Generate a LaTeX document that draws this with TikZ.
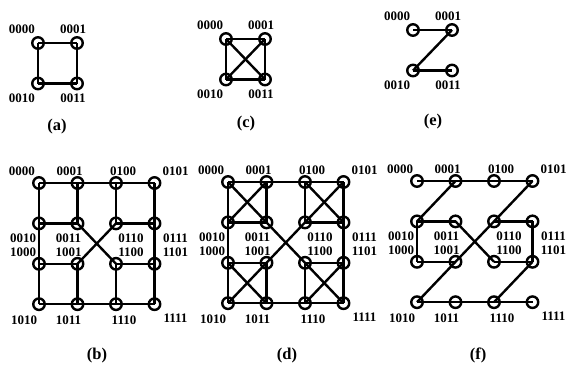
\documentclass[tikz,border=0pt]{standalone}
\usepackage{fontspec}
\setmainfont{Liberation Serif}
\usetikzlibrary{positioning}

\begin{document}
\begin{tikzpicture}[
    x=1pt, y=-1pt,
    pe/.style={circle, draw=black, line width=2.4pt, minimum size=11.5pt, inner sep=0pt},
    tag/.style={font=\bfseries\fontsize{13}{14}\selectfont, inner sep=0pt},
    caption/.style={font=\bfseries\fontsize{16.5}{18}\selectfont, inner sep=0pt},
    link/.style={line width=2.4pt}
]
    \useasboundingbox (0,0) rectangle (569,368);

    % 2x2 meshes (a), (c), (e)
    \foreach \p/\ox/\oy in {a/38/43, c/226/39, e/413/30} {
        \foreach \n/\c/\r/\lx/\ly in {0000/0/0/-16/-14, 0001/1/0/-4/-14, 0010/0/1/-16/15, 0011/1/1/-4/15} {
            \node[pe] (\p\n) at (\ox+39*\c, \oy+40.5*\r) {};
            \node[tag] at ([shift={(\lx,\ly)}]\p\n.center) {\n};
        }
    }

    % 4x4 meshes (b), (d), (f)
    \foreach \p/\ox/\oy in {b/39/183, d/228/182, f/417/181} {
        \foreach \n/\c/\r/\lx/\ly in {0000/0/0/-17/-12, 0001/1/0/-8/-12, 0100/2/0/7/-12, 0101/3/0/21/-12,
                                      0010/0/1/-16/15, 0011/1/1/-9/15, 0110/2/1/15/15, 0111/3/1/21/15,
                                      1000/0/2/-16/-12, 1001/1/2/-9/-12, 1100/2/2/15/-12, 1101/3/2/21/-12,
                                      1010/0/3/-15/16, 1011/1/3/-9/16, 1110/2/3/8/16, 1111/3/3/21/14} {
            \node[pe] (\p\n) at (\ox+38.5*\c, \oy+40.4*\r) {};
            \node[tag] at ([shift={(\lx,\ly)}]\p\n.center) {\n};
        }
    }

    % Links between the 2x2 blocks
    \foreach \p in {b,d,f}
        \foreach \u/\v in {0001/0100, 1011/1110, 0010/1000, 0111/1101, 0011/1100, 0110/1001}
            \draw[link] (\p\u.center) -- (\p\v.center);

    % Links inside the blocks: square
    \foreach \p/\s in {a/00, b/00, b/01, b/10, b/11}
        \foreach \u/\v in {00/01, 00/10, 01/11, 10/11}
            \draw[link] (\p\s\u.center) -- (\p\s\v.center);

    % Links inside the blocks: square with diagonals
    \foreach \p/\s in {c/00, d/00, d/01, d/10, d/11}
        \foreach \u/\v in {00/01, 00/10, 01/11, 10/11, 00/11, 01/10}
            \draw[link] (\p\s\u.center) -- (\p\s\v.center);

    % Links inside the blocks: Z path
    \foreach \p/\s in {e/00, f/00, f/01, f/10, f/11}
        \foreach \u/\v in {00/01, 01/10, 10/11}
            \draw[link] (\p\s\u.center) -- (\p\s\v.center);

    % Captions
    \node[caption] (capa) at (57,127) {(a)};
    \node[caption] (capc) at (246,124) {(c)};
    \node[caption] (cape) at (433,122) {(e)};
    \node[caption] (capb) at (97,356) {(b)};
    \node[caption] (capd) at (287,356) {(d)};
    \node[caption] (capf) at (478,355) {(f)};

\end{tikzpicture}
\end{document}
